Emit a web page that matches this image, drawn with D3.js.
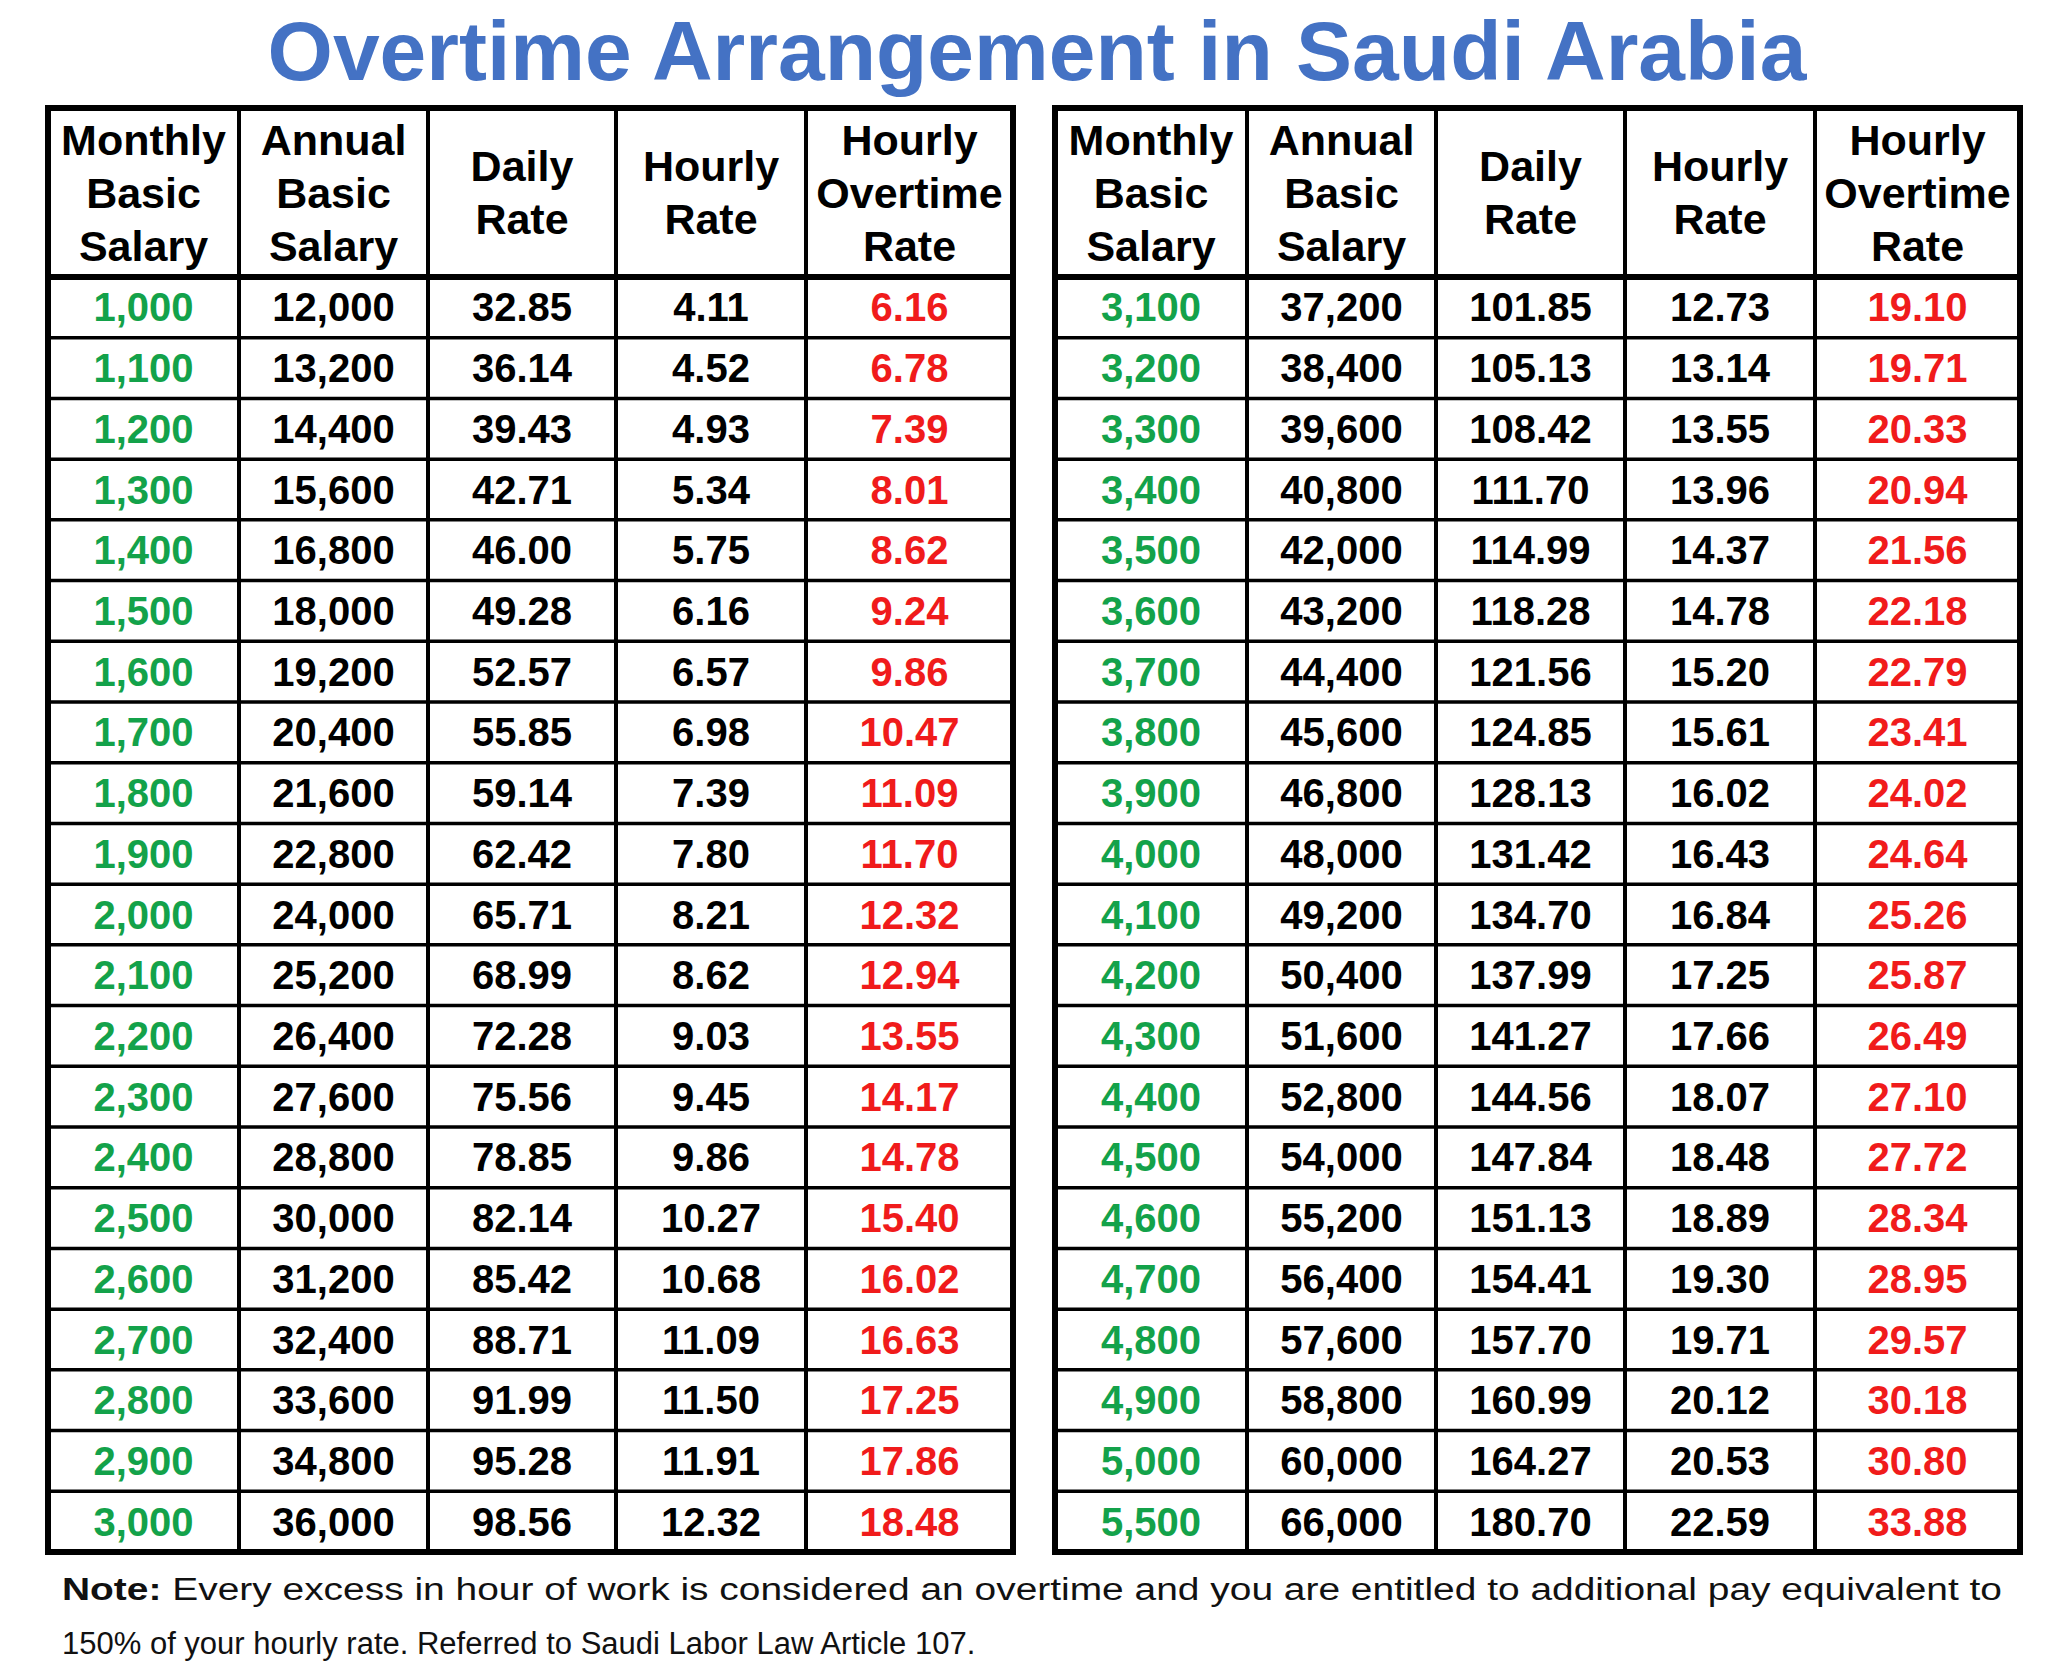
<!DOCTYPE html>
<html><head><meta charset="utf-8">
<script src="https://cdn.jsdelivr.net/npm/d3@7.9.0/dist/d3.min.js"></script>
<style>body{margin:0;background:#fff}</style></head>
<body><svg id="chart" width="2048" height="1675"></svg>
<script>
const headers = [["Monthly","Basic","Salary"],["Annual","Basic","Salary"],["Daily","Rate"],["Hourly","Rate"],["Hourly","Overtime","Rate"]];

const monthlyL = ["1,000","1,100","1,200","1,300","1,400","1,500","1,600","1,700","1,800","1,900","2,000","2,100","2,200","2,300","2,400","2,500","2,600","2,700","2,800","2,900","3,000"];
const annualL = ["12,000","13,200","14,400","15,600","16,800","18,000","19,200","20,400","21,600","22,800","24,000","25,200","26,400","27,600","28,800","30,000","31,200","32,400","33,600","34,800","36,000"];
const dailyL = ["32.85","36.14","39.43","42.71","46.00","49.28","52.57","55.85","59.14","62.42","65.71","68.99","72.28","75.56","78.85","82.14","85.42","88.71","91.99","95.28","98.56"];
const hourlyL = ["4.11","4.52","4.93","5.34","5.75","6.16","6.57","6.98","7.39","7.80","8.21","8.62","9.03","9.45","9.86","10.27","10.68","11.09","11.50","11.91","12.32"];
const overtimeL = ["6.16","6.78","7.39","8.01","8.62","9.24","9.86","10.47","11.09","11.70","12.32","12.94","13.55","14.17","14.78","15.40","16.02","16.63","17.25","17.86","18.48"];

const monthlyR = ["3,100","3,200","3,300","3,400","3,500","3,600","3,700","3,800","3,900","4,000","4,100","4,200","4,300","4,400","4,500","4,600","4,700","4,800","4,900","5,000","5,500"];
const annualR = ["37,200","38,400","39,600","40,800","42,000","43,200","44,400","45,600","46,800","48,000","49,200","50,400","51,600","52,800","54,000","55,200","56,400","57,600","58,800","60,000","66,000"];
const dailyR = ["101.85","105.13","108.42","111.70","114.99","118.28","121.56","124.85","128.13","131.42","134.70","137.99","141.27","144.56","147.84","151.13","154.41","157.70","160.99","164.27","180.70"];
const hourlyR = ["12.73","13.14","13.55","13.96","14.37","14.78","15.20","15.61","16.02","16.43","16.84","17.25","17.66","18.07","18.48","18.89","19.30","19.71","20.12","20.53","22.59"];
const overtimeR = ["19.10","19.71","20.33","20.94","21.56","22.18","22.79","23.41","24.02","24.64","25.26","25.87","26.49","27.10","27.72","28.34","28.95","29.57","30.18","30.80","33.88"];

const colColors = ["#13a24a","#000","#000","#000","#f01b1b"];
const svg = d3.select("#chart");
const font = "'Liberation Sans', Arial, sans-serif";

svg.append("text").attr("x", 1037).attr("y", 80).attr("text-anchor", "middle")
  .attr("font-family", font).attr("font-weight", "bold").attr("font-size", 84)
  .attr("fill", "#4472c4").text("Overtime Arrangement in Saudi Arabia");

const tableTop = 108, headBottom = 277, tableBottom = 1552;
const y = d3.scaleBand().domain(d3.range(21)).range([headBottom, tableBottom]);

function drawTable(edges, cols) {
  const g = svg.append("g");
  const x = i => (edges[i] + edges[i + 1]) / 2;
  y.domain().forEach(i => {
    if (i > 0) g.append("line").attr("x1", edges[0]).attr("x2", edges[5])
      .attr("y1", y(i)).attr("y2", y(i)).attr("stroke", "#000").attr("stroke-width", 3.5);
  });
  g.append("line").attr("x1", edges[0]).attr("x2", edges[5]).attr("y1", headBottom).attr("y2", headBottom)
    .attr("stroke", "#000").attr("stroke-width", 6);
  edges.slice(1, 5).forEach(e => g.append("line").attr("x1", e).attr("x2", e)
    .attr("y1", tableTop).attr("y2", tableBottom).attr("stroke", "#000").attr("stroke-width", 4));
  g.append("rect").attr("x", edges[0]).attr("y", tableTop).attr("width", edges[5] - edges[0])
    .attr("height", tableBottom - tableTop).attr("fill", "none").attr("stroke", "#000").attr("stroke-width", 6);
  headers.forEach((h, c) => {
    const mid = (tableTop + headBottom) / 2, step = 53;
    h.forEach((line, k) => {
      g.append("text").attr("x", x(c)).attr("y", mid + (k - (h.length - 1) / 2) * step + 15)
        .attr("text-anchor", "middle").attr("font-family", font).attr("font-weight", "bold")
        .attr("font-size", 43).text(line);
    });
  });
  cols.forEach((arr, c) => {
    g.selectAll(null).data(arr).join("text")
      .attr("x", x(c)).attr("y", (d, i) => y(i) + y.bandwidth() / 2 + 14)
      .attr("text-anchor", "middle").attr("font-family", font).attr("font-weight", "bold")
      .attr("font-size", 40).attr("fill", colColors[c]).text(d => d);
  });
}

drawTable([48, 239, 428, 616, 806, 1013], [monthlyL, annualL, dailyL, hourlyL, overtimeL]);
drawTable([1055, 1247, 1436, 1625, 1815, 2020], [monthlyR, annualR, dailyR, hourlyR, overtimeR]);

const note1 = svg.append("text").attr("x", 62).attr("y", 1600).attr("font-family", font)
  .attr("font-size", 31).attr("fill", "#111").attr("textLength", 1940).attr("lengthAdjust", "spacingAndGlyphs");
note1.append("tspan").attr("font-weight", "bold").text("Note:");
note1.append("tspan").text(" Every excess in hour of work is considered an overtime and you are entitled to additional pay equivalent to");
svg.append("text").attr("x", 62).attr("y", 1654).attr("font-family", font).attr("font-size", 31)
  .attr("fill", "#111").text("150% of your hourly rate. Referred to Saudi Labor Law Article 107.");
</script></body></html>
